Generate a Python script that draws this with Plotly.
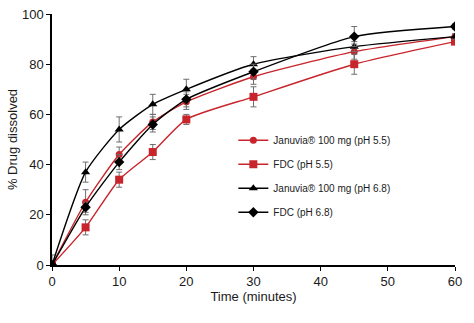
import plotly.graph_objects as go

time_min = [0, 5, 10, 15, 20, 30, 45, 60]

januvia_55 = [0, 25, 44, 57, 65, 75, 85, 91]
januvia_55_err = [0, 5, 3, 3, 3, 3, 3, 1]

fdc_55 = [0, 15, 34, 45, 58, 67, 80, 89]
fdc_55_err = [4, 3, 3, 3, 2, 4, 4, 1]

januvia_68 = [0, 37, 54, 64, 70, 80, 87, 91]
januvia_68_err = [0, 4, 5, 4, 4, 3, 2, 1]

fdc_68 = [0, 23, 41, 56, 66, 77, 91, 95]
fdc_68_err = [0, 2, 3, 3, 3, 3, 4, 1]

names = ["Januvia® 100 mg (pH 5.5)", "FDC (pH 5.5)", "Januvia® 100 mg (pH 6.8)", "FDC (pH 6.8)"]
RED = "#c8242b"
BLACK = "#000000"

series = [
    (januvia_55, januvia_55_err, RED, "circle", 7),
    (fdc_55, fdc_55_err, RED, "square", 8),
    (januvia_68, januvia_68_err, BLACK, "triangle-up", 8),
    (fdc_68, fdc_68_err, BLACK, "diamond", 8),
]

fig = go.Figure()
for i, (vals, err, col, sym, sz) in enumerate(series):
    fig.add_trace(go.Scatter(
        x=time_min, y=vals, name=names[i], legendgroup=str(i),
        mode="lines+markers",
        line=dict(color=col, width=1.4, shape="spline", smoothing=0.6),
        marker=dict(color=col, symbol=sym, size=sz),
        error_y=dict(type="data", array=err, visible=True, color="#6e6e6e", thickness=1, width=3),
    ))

fig.update_layout(
    width=474, height=323,
    margin=dict(l=52, r=19, t=7, b=58),
    paper_bgcolor="white", plot_bgcolor="white",
    font=dict(family="Liberation Sans, Arial, sans-serif", color="#1a1a1a", size=13),
    showlegend=True,
    legend=dict(x=0.45, y=0.555, xanchor="left", yanchor="top",
                font=dict(size=10), bgcolor="rgba(0,0,0,0)",
                traceorder="grouped", tracegroupgap=5, itemwidth=30),
    xaxis=dict(range=[0, 60], tickvals=[0, 10, 20, 30, 40, 50, 60],
               showline=True, linecolor="black", linewidth=1.5,
               ticks="outside", ticklen=4, tickcolor="black", showgrid=False, zeroline=False,
               tickfont=dict(size=13), ticklabeloverflow="allow",
               title=dict(text="Time (minutes)", font=dict(size=13), standoff=3)),
    yaxis=dict(range=[0, 100], tickvals=[0, 20, 40, 60, 80, 100],
               showline=True, linecolor="black", linewidth=1.5,
               ticks="outside", ticklen=4, tickcolor="black", showgrid=False, zeroline=False,
               tickfont=dict(size=13), ticklabeloverflow="allow",
               title=dict(text="% Drug dissolved", font=dict(size=13), standoff=1)),
)

fig.write_html("out.html")
